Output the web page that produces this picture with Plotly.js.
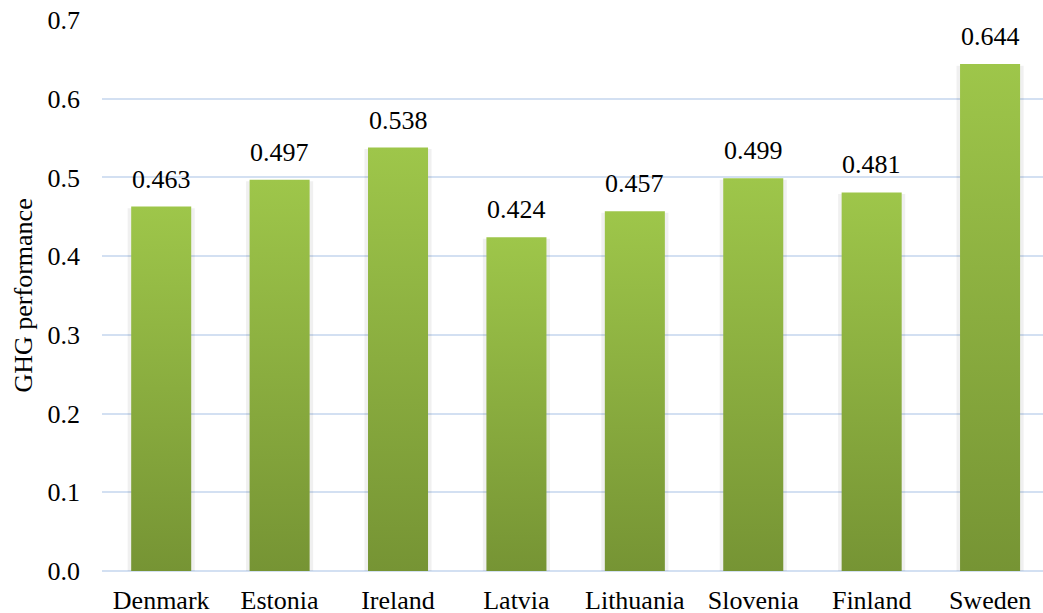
<!DOCTYPE html>
<html>
<head>
<meta charset="utf-8">
<script src="https://cdn.plot.ly/plotly-3.0.1.min.js"></script>
<style>
html,body{margin:0;padding:0;overflow:hidden;background:#fff;}
#chart{width:1043px;height:613px;}
</style>
</head>
<body>
<div id="chart"></div>
<script>
const categories = ["Denmark","Estonia","Ireland","Latvia","Lithuania","Slovenia","Finland","Sweden"];
const ghgValues = [0.463,0.497,0.538,0.424,0.457,0.499,0.481,0.644];
const yTickValues = [0,0.1,0.2,0.3,0.4,0.5,0.6,0.7];

const FONT = "'Liberation Serif','Times New Roman',serif";
const topColor = "#9ec64a";
const bottomColor = "#769434";
const gridColor = "#d3e0f2";
const halfW = 0.2535;
const idx = categories.map((c,i)=>i);

const traces = [];
// faint shadow behind bars
categories.forEach((c,i)=>{
  const v = ghgValues[i];
  const s = halfW + 0.03;
  traces.push({
    type:'scatter', mode:'lines', x:[i-s,i-s,i+s,i+s,i-s], y:[-0.006,v-0.002,v-0.002,-0.006,-0.006],
    fill:'toself', fillcolor:'rgba(0,0,0,0.06)', line:{width:0}, hoverinfo:'skip', showlegend:false,
    cliponaxis:false
  });
});
// gradient bars
categories.forEach((c,i)=>{
  const v = ghgValues[i];
  traces.push({
    type:'scatter', mode:'lines', name:c,
    x:[i-halfW,i-halfW,i+halfW,i+halfW,i-halfW], y:[0,v,v,0,0],
    fill:'toself', line:{width:0},
    fillgradient:{type:'vertical', start:0, stop:v, colorscale:[[0,bottomColor],[1,topColor]]},
    hoverinfo:'skip', showlegend:false
  });
});

const annotations = categories.map((c,i)=>({
  x:i, y:ghgValues[i], xref:'x', yref:'y', text:ghgValues[i].toFixed(3),
  showarrow:false, yanchor:'bottom', yshift:11, font:{family:FONT,size:26,color:'#000'}
}));
annotations.push({
  xref:'paper', yref:'paper', x:-79/941, y:0.5, xanchor:'center', yanchor:'middle',
  text:'GHG performance', textangle:-90, showarrow:false,
  font:{family:FONT,size:26,color:'#000'}
});

const layout = {
  width:1043, height:613,
  margin:{l:102,r:0,t:20,b:42},
  paper_bgcolor:'#fff', plot_bgcolor:'#fff',
  showlegend:false,
  font:{family:FONT,size:26,color:'#000'},
  xaxis:{
    range:[-0.5,7.447], tickmode:'array', tickvals:idx, ticktext:categories,
    showgrid:false, zeroline:false, showline:false, ticks:'',
    tickfont:{family:FONT,size:26,color:'#000'}, automargin:false, ticklabelstandoff:11
  },
  yaxis:{
    range:[0,0.7], tickmode:'array', tickvals:yTickValues, ticktext:yTickValues.map(v=>v.toFixed(1)),
    showgrid:true, gridcolor:gridColor, gridwidth:2,
    zeroline:true, zerolinecolor:gridColor, zerolinewidth:2, showline:false, ticks:'',
    tickfont:{family:FONT,size:26,color:'#000'}, automargin:false, ticklabelstandoff:21
  },
  annotations:annotations
};

Plotly.newPlot('chart', traces, layout, {displayModeBar:false, staticPlot:true});
</script>
</body>
</html>
